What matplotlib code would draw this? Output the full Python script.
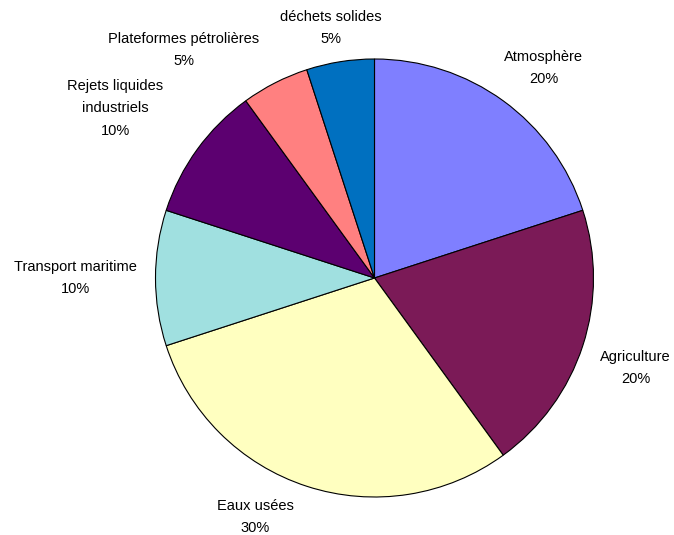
import matplotlib
matplotlib.use("Agg")
import matplotlib.pyplot as plt

# Data (clockwise from 12 o'clock)
labels = ["Atmosphère", "Agriculture", "Eaux usées", "Transport maritime",
          "Rejets liquides\nindustriels", "Plateformes pétrolières", "déchets solides"]
values = [20, 20, 30, 10, 10, 5, 5]
colors = ["#7f7fff", "#7b1a57", "#ffffc0", "#a0e0e0", "#5c0070", "#ff8080", "#0070c0"]

# label centres in pie-radius units (Excel places them by hand)
label_pos = [(0.772, 0.96), (1.192, -0.41), (-0.543, -1.09), (-1.365, 0.0),
             (-1.183, 0.775), (-0.872, 1.04), (-0.2, 1.143)]

W, H = 674, 535
fig = plt.figure(figsize=(W / 100, H / 100), dpi=100)
cx, cy, r = 374.5, 278, 219
ax = fig.add_axes([(cx - r) / W, (H - cy - r) / H, 2 * r / W, 2 * r / H])

ax.pie(values, colors=colors, startangle=90, counterclock=False,
       wedgeprops=dict(edgecolor="black", linewidth=0.8), radius=1)
ax.set_xlim(-1, 1)
ax.set_ylim(-1, 1)
ax.set_aspect("auto")
ax.axis("off")

total = sum(values)
for lab, v, (x, y) in zip(labels, values, label_pos):
    ax.text(x, y, f"{lab}\n{round(100 * v / total)}%", ha="center", va="center",
            fontsize=10.5, family="Liberation Sans", linespacing=1.75, clip_on=False)

fig.savefig("out.png", dpi=100, facecolor="white")
